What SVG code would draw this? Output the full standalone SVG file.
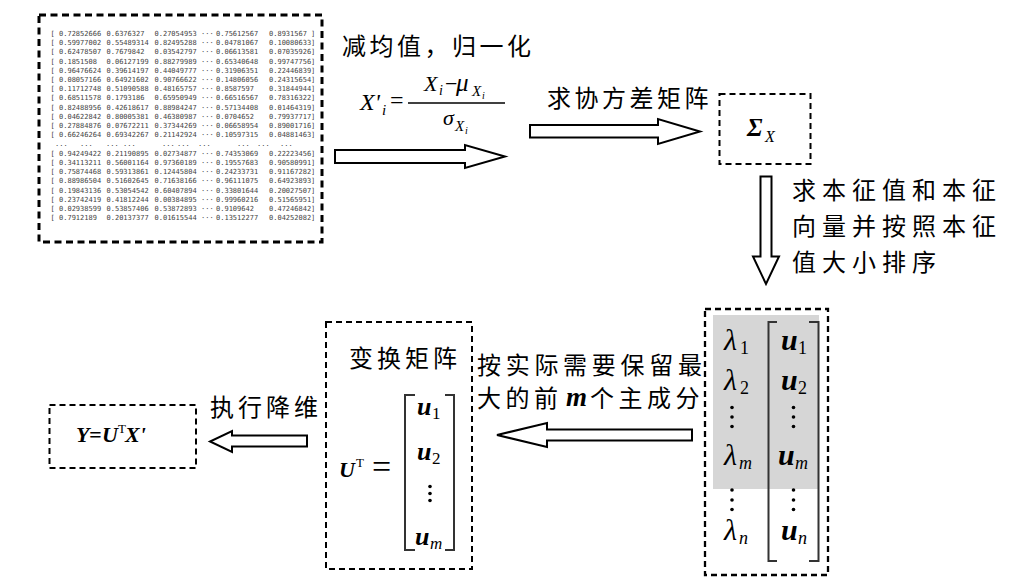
<svg xmlns="http://www.w3.org/2000/svg" width="1035" height="585" viewBox="0 0 1035 585">
<style>
.box{fill:none;stroke:#000;stroke-width:2;stroke-dasharray:6 4}
.boxh{fill:none;stroke:#000;stroke-width:3;stroke-dasharray:7 4.5}
.arrow{fill:#fff;stroke:#000;stroke-width:2;stroke-linejoin:miter}
.cjk{font-family:"Noto Sans CJK SC","Noto Sans CJK JP",sans-serif;font-size:24px;fill:#000;letter-spacing:3.5px}
.m{font-family:"Liberation Serif","DejaVu Serif",serif;font-style:italic;fill:#000}
.mb{font-family:"Liberation Serif","DejaVu Serif",serif;font-style:italic;font-weight:bold;fill:#000}
.r{font-family:"Liberation Serif","DejaVu Serif",serif;fill:#000}
.num{font-family:"DejaVu Sans Mono","Liberation Mono",monospace;font-size:7px;fill:#444}
.br{fill:none;stroke:#333;stroke-width:2}
.dot{fill:#000}
</style>
<rect width="1035" height="585" fill="#fff"/>

<g id="data-matrix">
<rect class="boxh" x="39" y="15" width="283" height="227"/>
<g class="num">
<text y="35.8"><tspan x="50.5">[</tspan><tspan x="59">0.72852666</tspan><tspan x="106.5">0.6376327</tspan><tspan x="154.5">0.27054953</tspan><tspan x="201">···</tspan><tspan x="216">0.75612567</tspan><tspan x="269">0.8931567</tspan><tspan x="311">]</tspan></text>
<text y="45"><tspan x="50.5">[</tspan><tspan x="59">0.59977002</tspan><tspan x="106.5">0.55489314</tspan><tspan x="154.5">0.82495288</tspan><tspan x="201">···</tspan><tspan x="216">0.04781067</tspan><tspan x="269">0.10080633</tspan><tspan x="311">]</tspan></text>
<text y="54.2"><tspan x="50.5">[</tspan><tspan x="59">0.62478507</tspan><tspan x="106.5">0.7679842</tspan><tspan x="154.5">0.03542797</tspan><tspan x="201">···</tspan><tspan x="216">0.06613581</tspan><tspan x="269">0.07035926</tspan><tspan x="311">]</tspan></text>
<text y="63.5"><tspan x="50.5">[</tspan><tspan x="59">0.1851508</tspan><tspan x="106.5">0.06127199</tspan><tspan x="154.5">0.88279989</tspan><tspan x="201">···</tspan><tspan x="216">0.65340648</tspan><tspan x="269">0.99747756</tspan><tspan x="311">]</tspan></text>
<text y="72.7"><tspan x="50.5">[</tspan><tspan x="59">0.96476624</tspan><tspan x="106.5">0.39614197</tspan><tspan x="154.5">0.44049777</tspan><tspan x="201">···</tspan><tspan x="216">0.31906351</tspan><tspan x="269">0.22446839</tspan><tspan x="311">]</tspan></text>
<text y="81.9"><tspan x="50.5">[</tspan><tspan x="59">0.08057166</tspan><tspan x="106.5">0.64921602</tspan><tspan x="154.5">0.90766622</tspan><tspan x="201">···</tspan><tspan x="216">0.14806056</tspan><tspan x="269">0.24315654</tspan><tspan x="311">]</tspan></text>
<text y="91.1"><tspan x="50.5">[</tspan><tspan x="59">0.11712748</tspan><tspan x="106.5">0.51090588</tspan><tspan x="154.5">0.48165757</tspan><tspan x="201">···</tspan><tspan x="216">0.8587597</tspan><tspan x="269">0.31844944</tspan><tspan x="311">]</tspan></text>
<text y="100.3"><tspan x="50.5">[</tspan><tspan x="59">0.68511578</tspan><tspan x="106.5">0.1793186</tspan><tspan x="154.5">0.65950949</tspan><tspan x="201">···</tspan><tspan x="216">0.66516567</tspan><tspan x="269">0.78316322</tspan><tspan x="311">]</tspan></text>
<text y="109.6"><tspan x="50.5">[</tspan><tspan x="59">0.82488956</tspan><tspan x="106.5">0.42618617</tspan><tspan x="154.5">0.88984247</tspan><tspan x="201">···</tspan><tspan x="216">0.57134408</tspan><tspan x="269">0.01464319</tspan><tspan x="311">]</tspan></text>
<text y="118.8"><tspan x="50.5">[</tspan><tspan x="59">0.04622842</tspan><tspan x="106.5">0.80005381</tspan><tspan x="154.5">0.46380987</tspan><tspan x="201">···</tspan><tspan x="216">0.0704652</tspan><tspan x="269">0.79937717</tspan><tspan x="311">]</tspan></text>
<text y="128"><tspan x="50.5">[</tspan><tspan x="59">0.27884876</tspan><tspan x="106.5">0.07672211</tspan><tspan x="154.5">0.37344269</tspan><tspan x="201">···</tspan><tspan x="216">0.06658954</tspan><tspan x="269">0.89001716</tspan><tspan x="311">]</tspan></text>
<text y="137.2"><tspan x="50.5">[</tspan><tspan x="59">0.66246264</tspan><tspan x="106.5">0.69342267</tspan><tspan x="154.5">0.21142924</tspan><tspan x="201">···</tspan><tspan x="216">0.10597315</tspan><tspan x="269">0.04881463</tspan><tspan x="311">]</tspan></text>
<text y="146.4"><tspan x="55">...</tspan><tspan x="80">...</tspan><tspan x="106">...</tspan><tspan x="123">...</tspan><tspan x="162">...</tspan><tspan x="177">...</tspan><tspan x="198">...</tspan><tspan x="237">...</tspan><tspan x="257">...</tspan><tspan x="280">...</tspan></text>
<text y="155.7"><tspan x="50.5">[</tspan><tspan x="59">0.94249422</tspan><tspan x="106.5">0.21190895</tspan><tspan x="154.5">0.02734877</tspan><tspan x="201">···</tspan><tspan x="216">0.74353069</tspan><tspan x="269">0.22223456</tspan><tspan x="311">]</tspan></text>
<text y="164.9"><tspan x="50.5">[</tspan><tspan x="59">0.34113211</tspan><tspan x="106.5">0.56001164</tspan><tspan x="154.5">0.97360189</tspan><tspan x="201">···</tspan><tspan x="216">0.19557683</tspan><tspan x="269">0.90580991</tspan><tspan x="311">]</tspan></text>
<text y="174.1"><tspan x="50.5">[</tspan><tspan x="59">0.75874468</tspan><tspan x="106.5">0.59313861</tspan><tspan x="154.5">0.12445804</tspan><tspan x="201">···</tspan><tspan x="216">0.24233731</tspan><tspan x="269">0.91167282</tspan><tspan x="311">]</tspan></text>
<text y="183.3"><tspan x="50.5">[</tspan><tspan x="59">0.88986504</tspan><tspan x="106.5">0.51602645</tspan><tspan x="154.5">0.71638166</tspan><tspan x="201">···</tspan><tspan x="216">0.96111075</tspan><tspan x="269">0.64923893</tspan><tspan x="311">]</tspan></text>
<text y="192.6"><tspan x="50.5">[</tspan><tspan x="59">0.19843136</tspan><tspan x="106.5">0.53054542</tspan><tspan x="154.5">0.60407894</tspan><tspan x="201">···</tspan><tspan x="216">0.33801644</tspan><tspan x="269">0.20027507</tspan><tspan x="311">]</tspan></text>
<text y="201.8"><tspan x="50.5">[</tspan><tspan x="59">0.23742419</tspan><tspan x="106.5">0.41812244</tspan><tspan x="154.5">0.00384895</tspan><tspan x="201">···</tspan><tspan x="216">0.99960216</tspan><tspan x="269">0.51565951</tspan><tspan x="311">]</tspan></text>
<text y="211"><tspan x="50.5">[</tspan><tspan x="59">0.02938599</tspan><tspan x="106.5">0.53857406</tspan><tspan x="154.5">0.53872893</tspan><tspan x="201">···</tspan><tspan x="216">0.9109642</tspan><tspan x="269">0.47246842</tspan><tspan x="311">]</tspan></text>
<text y="220.2"><tspan x="50.5">[</tspan><tspan x="59">0.7912189</tspan><tspan x="106.5">0.20137377</tspan><tspan x="154.5">0.01615544</tspan><tspan x="201">···</tspan><tspan x="216">0.13512277</tspan><tspan x="269">0.04252082</tspan><tspan x="311">]</tspan></text>
</g>
</g>

<g id="normalize-label">
<text class="cjk" x="342" y="55">减均值，归一化</text>
<text class="m" x="360" y="110" font-size="24">X'</text>
<text class="m" x="382" y="115" font-size="15">i</text>
<text class="r" x="390" y="108" font-size="24">=</text>
<line x1="408" y1="103" x2="505" y2="103" stroke="#000" stroke-width="1.3"/>
<text class="m" x="424" y="91" font-size="22">X</text>
<text class="m" x="439" y="95" font-size="14">i</text>
<text class="r" x="445" y="91" font-size="22">−</text>
<text class="m" x="456" y="91" font-size="25">μ</text>
<text class="m" x="472" y="96" font-size="15">X</text>
<text class="m" x="482" y="99" font-size="10">i</text>
<text class="m" x="443" y="125" font-size="22">σ</text>
<text class="m" x="455" y="131" font-size="15">X</text>
<text class="m" x="465" y="134" font-size="10">i</text>
</g>

<g id="covariance-label">
<text class="cjk" x="547" y="107">求协方差矩阵</text>
</g>

<g id="sigma">
<rect class="box" x="719.5" y="94" width="91" height="70"/>
<text class="mb" x="747" y="136" font-size="25">Σ</text>
<text class="m" x="765" y="142" font-size="16">X</text>
</g>

<g id="eigen-label">
<text class="cjk" x="792" y="199" style="letter-spacing:6px">求本征值和本征</text>
<text class="cjk" x="792" y="235" style="letter-spacing:6px">向量并按照本征</text>
<text class="cjk" x="792" y="271" style="letter-spacing:6px">值大小排序</text>
</g>

<g id="eigen-box">
<rect x="713" y="315" width="106" height="174" fill="#d6d6d6"/>
<rect class="box" x="705" y="309" width="123" height="266" style="stroke-width:2.3"/>
<path class="br" d="M777,322 H768.5 V561 H777"/>
<path class="br" d="M809,322 H818.5 V561 H809"/>
<text class="m" x="724" y="350" font-size="30">λ</text>
<text class="r" x="740" y="354" font-size="18">1</text>
<text class="m" x="724" y="390" font-size="30">λ</text>
<text class="r" x="740" y="394" font-size="18">2</text>
<text class="m" x="724" y="465" font-size="30">λ</text>
<text class="m" x="739" y="469" font-size="18">m</text>
<text class="m" x="724" y="540" font-size="30">λ</text>
<text class="m" x="739" y="544" font-size="18">n</text>
<text class="mb" x="781" y="350" font-size="30">u</text>
<text class="r" x="798" y="354" font-size="18">1</text>
<text class="mb" x="781" y="390" font-size="30">u</text>
<text class="r" x="798" y="394" font-size="18">2</text>
<text class="mb" x="778" y="465" font-size="30">u</text>
<text class="m" x="795" y="469" font-size="18">m</text>
<text class="mb" x="781" y="540" font-size="30">u</text>
<text class="m" x="798" y="544" font-size="18">n</text>
<g class="dot">
<circle cx="732" cy="407.5" r="1.8"/><circle cx="732" cy="417" r="1.8"/><circle cx="732" cy="426.5" r="1.8"/>
<circle cx="732" cy="490" r="1.8"/><circle cx="732" cy="500" r="1.8"/><circle cx="732" cy="509.5" r="1.8"/>
<circle cx="793.5" cy="407.5" r="1.8"/><circle cx="793.5" cy="417" r="1.8"/><circle cx="793.5" cy="426.5" r="1.8"/>
<circle cx="793.5" cy="490" r="1.8"/><circle cx="793.5" cy="500" r="1.8"/><circle cx="793.5" cy="509.5" r="1.8"/>
</g>
</g>

<g id="select-label">
<text class="cjk" x="477" y="374" style="letter-spacing:4.7px">按实际需要保留最</text>
<text class="cjk" x="477" y="407" style="letter-spacing:4.5px">大的前</text>
<text class="mb" x="566" y="406" font-size="27">m</text>
<text class="cjk" x="590" y="407" style="letter-spacing:4.5px">个主成分</text>
</g>

<g id="transform-matrix">
<rect class="box" x="326" y="322" width="146" height="247"/>
<text class="cjk" x="349" y="367" style="letter-spacing:4px">变换矩阵</text>
<text class="mb" x="339" y="477" font-size="22">U</text>
<text class="r" x="356" y="467" font-size="13">T</text>
<text class="r" x="372" y="478" font-size="34">=</text>
<path class="br" d="M415,395 H405 V550 H415"/>
<path class="br" d="M445,395 H454 V550 H445"/>
<text class="mb" x="417" y="415" font-size="26">u</text>
<text class="r" x="432" y="419" font-size="17">1</text>
<text class="mb" x="417" y="460" font-size="26">u</text>
<text class="r" x="432" y="464" font-size="17">2</text>
<circle class="dot" cx="430" cy="486.5" r="1.8"/><circle class="dot" cx="430" cy="493.5" r="1.8"/><circle class="dot" cx="430" cy="500.5" r="1.8"/>
<text class="mb" x="415" y="545" font-size="26">u</text>
<text class="m" x="430" y="549" font-size="17">m</text>
</g>

<g id="reduce-label">
<text class="cjk" x="210" y="416" style="letter-spacing:4px">执行降维</text>
</g>

<g id="result">
<rect class="box" x="49.5" y="405" width="146.5" height="63"/>
<text class="mb" x="76" y="442" font-size="22">Y</text>
<text class="mb" x="89" y="442" font-size="22">=</text>
<text class="mb" x="102" y="442" font-size="22">U</text>
<text class="r" x="118" y="433" font-size="13">T</text>
<text class="mb" x="125" y="442" font-size="22">X'</text>
</g>

<g id="connectors">
<polygon class="arrow" points="335,150 465,150 465,145 505,156.5 465,168 465,163 335,163"/>
<polygon class="arrow" points="530,125 658,125 658,119 700,131.5 658,144 658,137.5 530,137.5"/>
<polygon class="arrow" points="760.5,176.5 771.5,176.5 771.5,256.5 779,256.5 766,284 753,256.5 760.5,256.5"/>
<polygon class="arrow" points="692,429.5 547,429.5 547,423 497,435 547,447 547,440.5 692,440.5"/>
<polygon class="arrow" points="307,435.5 232,435.5 232,431 210,441.5 232,452 232,446.5 307,446.5"/>
</g>
</svg>
